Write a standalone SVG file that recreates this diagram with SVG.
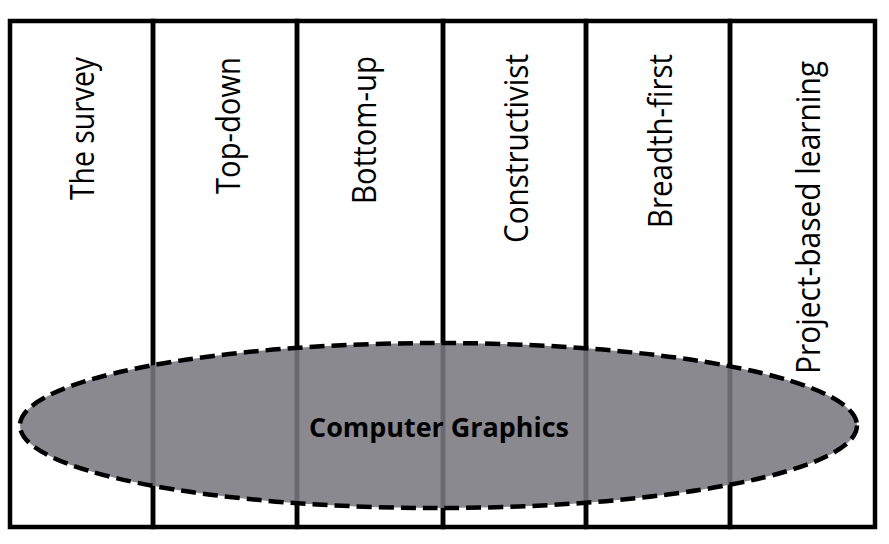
<svg xmlns="http://www.w3.org/2000/svg" width="889" height="544" viewBox="0 0 889 544">
  <style>
    .col { fill: none; stroke: #000; stroke-width: 4.5; }
    .lbl { font-family: "Open Sans", "Noto Sans", "DejaVu Sans", sans-serif; font-size: 33px; fill: #000; }
    .ell { fill: #79787f; fill-opacity: 0.875; stroke: #000; stroke-width: 4.5; stroke-dasharray: 15 7; }
    .title { font-family: "Open Sans", "Noto Sans", "DejaVu Sans", sans-serif; font-size: 26px; font-weight: bold; fill: #000; }
  </style>
  <rect width="889" height="544" fill="#fff"/>
  <g id="col-survey">
    <rect class="col" x="10" y="21" width="143" height="506"/>
    <text class="lbl" transform="translate(94,200) rotate(-90)" textLength="143" lengthAdjust="spacingAndGlyphs">The survey</text>
  </g>
  <g id="col-topdown">
    <rect class="col" x="153" y="21" width="144" height="506"/>
    <text class="lbl" transform="translate(240,194) rotate(-90)" textLength="137" lengthAdjust="spacingAndGlyphs">Top-down</text>
  </g>
  <g id="col-bottomup">
    <rect class="col" x="297" y="21" width="146" height="506"/>
    <text class="lbl" transform="translate(376,204) rotate(-90)" textLength="148" lengthAdjust="spacingAndGlyphs">Bottom-up</text>
  </g>
  <g id="col-constructivist">
    <rect class="col" x="443" y="21" width="143" height="506"/>
    <text class="lbl" transform="translate(528,243) rotate(-90)" textLength="189" lengthAdjust="spacingAndGlyphs">Constructivist</text>
  </g>
  <g id="col-breadthfirst">
    <rect class="col" x="586" y="21" width="144" height="506"/>
    <text class="lbl" transform="translate(672,228) rotate(-90)" textLength="174" lengthAdjust="spacingAndGlyphs">Breadth-first</text>
  </g>
  <g id="col-project">
    <rect class="col" x="730" y="21" width="145" height="506"/>
    <text class="lbl" transform="translate(820,374) rotate(-90)" textLength="313" lengthAdjust="spacingAndGlyphs">Project-based learning</text>
  </g>
  <g id="computer-graphics">
    <ellipse class="ell" cx="438.5" cy="425.5" rx="418.5" ry="82.5"/>
    <text class="title" x="309" y="437" textLength="260" lengthAdjust="spacingAndGlyphs">Computer Graphics</text>
  </g>
  <g id="connectors"/>
</svg>
